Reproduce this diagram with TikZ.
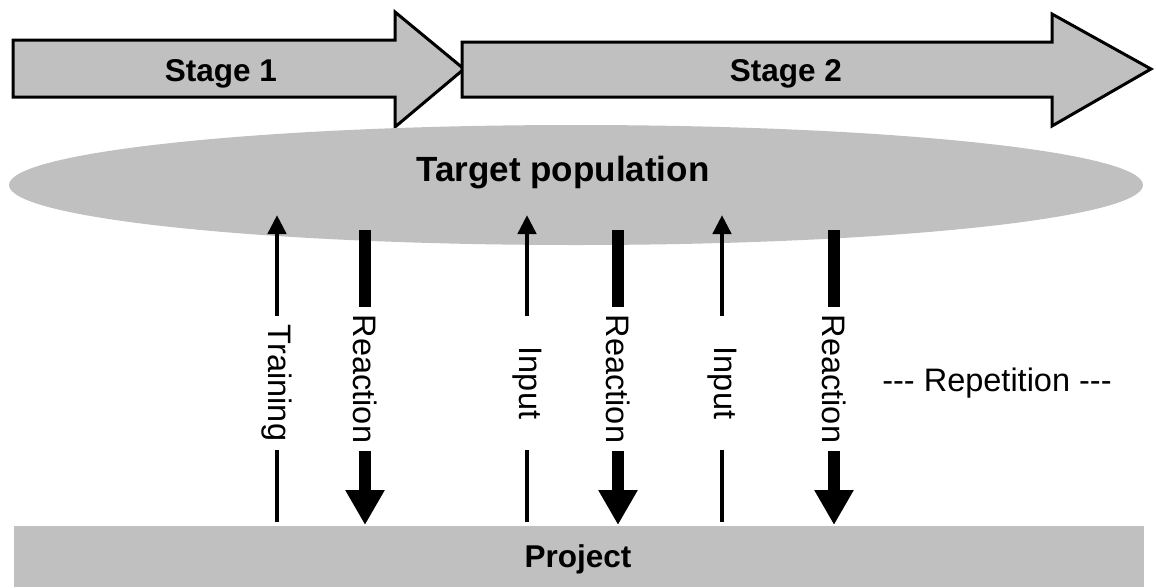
\documentclass[tikz,border=0pt]{standalone}
\usepackage{fontspec}
\setmainfont{Liberation Sans}
\usetikzlibrary{arrows.meta,shapes.geometric}
\definecolor{panelgray}{RGB}{192,192,192}
\begin{document}
\begin{tikzpicture}[x=1pt,y=-1pt,
  stagearrow/.style={draw=black, line width=3pt, fill=panelgray, line join=miter},
  heading/.style={font=\fontsize{31.5}{38}\selectfont\bfseries, inner sep=0pt},
  bigheading/.style={heading, font=\fontsize{35}{42}\selectfont\bfseries},
  plaintext/.style={font=\fontsize{32.5}{39}\selectfont, inner sep=0pt},
  flowlabel/.style={plaintext, rotate=-90},
  uplabel/.style={flowlabel, minimum width=134pt},
  downlabel/.style={flowlabel, minimum width=144pt},
  thinline/.style={line width=4.5pt},
  thickline/.style={line width=12pt},
  thinhead/.style={-{Triangle[width=18pt,length=19pt]}},
  thickhead/.style={-{Triangle[width=37pt,length=35pt]}},
]
\useasboundingbox (0,0) rectangle (1156,587);

% stage arrows along the top
\draw[stagearrow] (13,40) -- (395,40) -- (395,12) -- (464,69) -- (395,127)
  -- (395,97) -- (13,97) -- cycle;
\draw[stagearrow] (462,42) -- (1052,42) -- (1052,14) -- (1151,69) -- (1052,126)
  -- (1052,97) -- (462,97) -- cycle;
\node[heading, anchor=base] (stage1) at (221,81) {Stage 1};
\node[heading, anchor=base] (stage2) at (786,81) {Stage 2};

% target population and project
\node[ellipse, fill=panelgray, minimum width=1134pt, minimum height=120pt,
  inner sep=0pt] (target) at (576,185) {};
\node[bigheading, anchor=base] (targettext) at (563,181) {Target population};
\node[fill=panelgray, minimum width=1130pt, minimum height=61pt, inner sep=0pt]
  (project) at (579,556.5) {};
\node[heading, anchor=base] (projecttext) at (578,567) {Project};

% end points of the flows
\coordinate (tr-s) at (277,522); \coordinate (tr-e) at (277,215);
\coordinate (in1-s) at (527,522); \coordinate (in1-e) at (527,215);
\coordinate (in2-s) at (722,522); \coordinate (in2-e) at (722,215);
\coordinate (re1-s) at (365,230); \coordinate (re1-e) at (365,525);
\coordinate (re2-s) at (618,230); \coordinate (re2-e) at (618,525);
\coordinate (re3-s) at (834,230); \coordinate (re3-e) at (834,525);

% flow labels
\node[uplabel] (tr) at (277,383) {Training};
\node[uplabel] (in1) at (527,383) {Input};
\node[uplabel] (in2) at (722,383) {Input};
\node[downlabel] (re1) at (365,379) {Reaction};
\node[downlabel] (re2) at (618,379) {Reaction};
\node[downlabel] (re3) at (834,379) {Reaction};

% upward flows
\foreach \f in {tr,in1,in2}{
  \draw[thinline] (\f-s) -- (\f);
  \draw[thinline, thinhead] (\f) -- (\f-e);
}
% downward flows
\foreach \f in {re1,re2,re3}{
  \draw[thickline] (\f-s) -- (\f);
  \draw[thickline, thickhead] (\f) -- (\f-e);
}

\node[plaintext] (repeat) at (997,383)
  {-\kern0pt-\kern0pt- Repetition -\kern0pt-\kern0pt-};
\end{tikzpicture}
\end{document}
